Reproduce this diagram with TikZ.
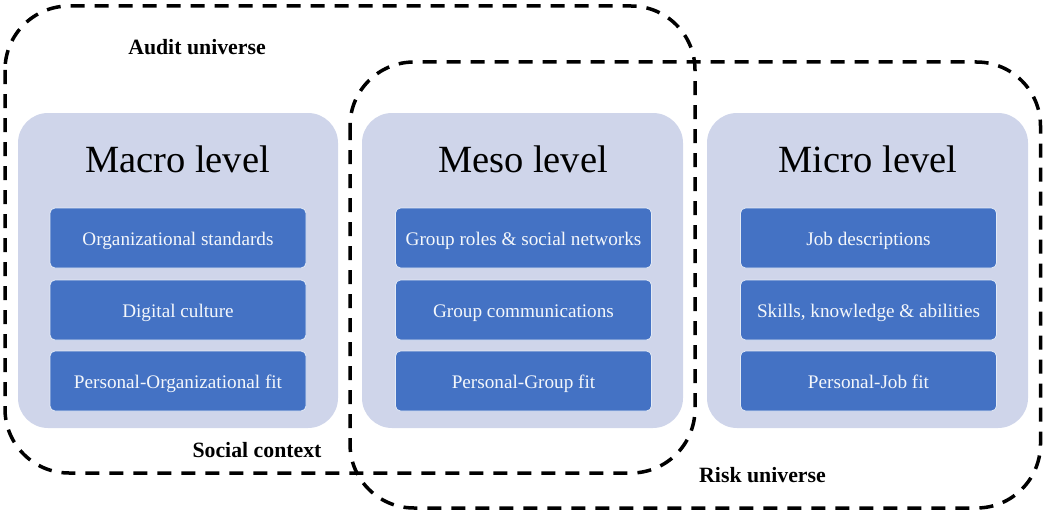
\documentclass[tikz,border=0pt]{standalone}
\usepackage{fontspec}
\setmainfont{Liberation Serif}
\definecolor{tierfill}{HTML}{CFD5EA}
\definecolor{itemfill}{HTML}{4472C4}

\begin{document}
\begin{tikzpicture}[x=1pt,y=-1pt,
  tier/.style={fill=tierfill,rounded corners=30pt,minimum width=320pt,minimum height=315pt,inner sep=0pt},
  heading/.style={anchor=base,font=\fontsize{38.5}{40}\selectfont},
  item/.style={fill=itemfill,draw=white!85!itemfill,line width=0.8pt,rounded corners=5pt,minimum width=256pt,minimum height=60pt,inner sep=0pt,text=white!94!itemfill,font=\fontsize{19.2}{21}\selectfont,text height=17pt,text depth=3pt},
  universe/.style={line width=3.5pt,dash pattern=on 14pt off 10pt,rounded corners=64pt},
  tag/.style={anchor=base,font=\fontsize{21.8}{24}\selectfont\bfseries}]
\useasboundingbox (0,0) rectangle (1044,511);
\node[tier] (ma) at (178,270.5) {};
\node[tier,minimum width=321pt] (me) at (522.5,270.5) {};
\node[tier,minimum width=321pt] (mi) at (867.5,270.5) {};
\node[heading] (mat) at (177.5,172) {Macro level};
\node[heading] (met) at (523,172) {Meso level};
\node[heading] (mit) at (868,172) {Micro level};
\node[item] (ma1) at (178,238) {Organizational standards};
\node[item] (ma2) at (178,310) {Digital culture};
\node[item] (ma3) at (178,381) {Personal-Organizational fit};
\node[item] (me1) at (523.5,238) {Group roles \& social networks};
\node[item] (me2) at (523.5,310) {Group communications};
\node[item] (me3) at (523.5,381) {Personal-Group fit};
\node[item] (mi1) at (868.5,238) {Job descriptions};
\node[item] (mi2) at (868.5,310) {Skills, knowledge \& abilities};
\node[item] (mi3) at (868.5,381) {Personal-Job fit};
\draw[universe] (5,6) rectangle (695,473);
\draw[universe] (350,62) rectangle (1040.5,508);
\node[tag] (au) at (197,55) {Audit universe};
\node[tag] (sc) at (257,457) {Social context};
\node[tag] (ru) at (762.5,482) {Risk universe};
\end{tikzpicture}
\end{document}
